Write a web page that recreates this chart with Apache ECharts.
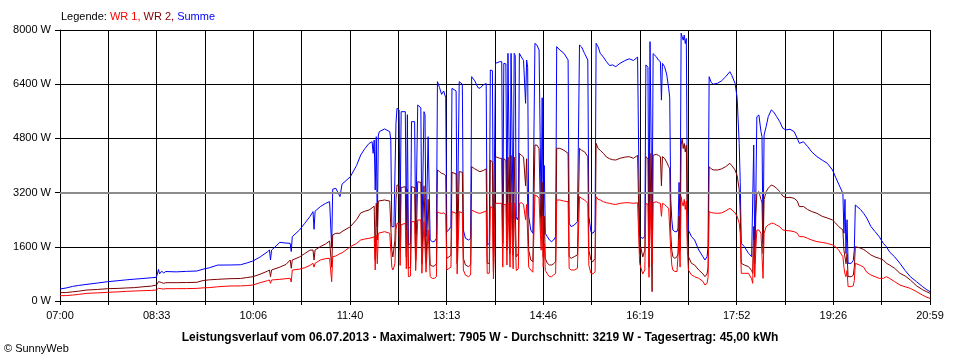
<!DOCTYPE html>
<html><head><meta charset="utf-8">
<script src="https://cdn.jsdelivr.net/npm/echarts@6/dist/echarts.min.js"></script>
<style>html,body{margin:0;padding:0;background:#fff}#c{width:960px;height:360px}</style>
</head><body><div id="c"></div>
<script>
// x tick labels (every second grid line)
const tickLabels = ['07:00','08:33','10:06','11:40','13:13','14:46','16:19','17:52','19:26','20:59'];
// sample times, minutes after 07:00
const minutes = [
0,6,12,18,26,36,46,56,64,72,
80,88,93,95,96,98,100,102,112,122,
132,138,144,152,164,174,180,186,193,200,
202,203,204,212,218,222,223,224,231,236,
241,244,245,246,251,256,260,262,263,266,
270,272,280,286,290,294,298,301,302,303,
304,305,306,307,308,313,318,319,320,321,
322,323,324,325,327,328,329,333,334,335,
336,338,339,342,343,344,345,348,349,350,
351,352,353,354,355,356,357,359,361,363,
364,366,368,370,372,373,375,377,378,382,
383,384,385,388,389,391,394,396,397,400,
403,405,408,411,412,413,414,415,417,418,
419,420,424,426,427,428,430,431,432,433,
434,435,436,437,438,439,440,441,442,443,
445,447,448,449,450,451,452,454,456,457,
458,460,462,463,464,465,466,467,468,470,
472,474,476,478,479,482,486,490,491,493,
496,499,501,503,506,509,510,512,514,516,
517,519,521,524,527,530,533,536,540,545,
549,553,557,558,559,560,562,564,565,567,
568,569,570,571,572,575,577,579,580,581,
583,585,587,588,589,590,591,593,595,596,
597,598,599,600,601,602,603,604,605,606,
609,612,616,620,622,624,625,626,628,630,
634,638,642,646,648,651,653,655,656,657,
660,664,667,668,669,670,671,672,674,676,
677,678,679,681,683,686,688,691,694,697,
700,704,708,711,713,717,721,725,730,735,
740,745,748,751,755,756,757,758,759,760,
763,765,766,767,768,772,775,778,782,786,
790,794,797,800,805,810,815,820,826,832,
836,839
];
// Summe (W)
const summe = [
354,385,430,460,492,530,570,600,625,645,
665,685,700,935,800,880,830,870,860,875,
885,940,980,1060,1063,1070,1120,1181,1300,1450,
1506,1210,1500,1732,1710,1702,1460,1900,2096,2293,
2490,2637,2116,2650,2785,2880,2932,1600,3300,3326,
3080,3450,3670,4000,4310,4500,4650,4700,4360,4750,
3277,4851,2194,4900,5000,5080,5000,4750,2194,2250,
2194,2244,5245,5688,5640,2293,5589,5589,2096,5500,
1653,1700,5294,5294,1998,2050,5786,5700,1801,1801,
5589,5500,1900,1850,4851,4851,1801,1752,1752,1850,
6475,6300,6100,6200,6000,2047,2096,2200,6278,6200,
1702,1750,6475,6400,2096,1850,1800,1850,6622,6500,
6300,6278,6380,6420,1653,1604,1700,6819,6800,1500,
1550,7016,7065,7065,2096,7016,7000,2490,7311,7300,
2300,7311,7300,2400,7311,7250,2490,2400,2490,7311,
7200,7100,7065,5835,7114,6900,2500,2096,2000,2050,
7606,7550,7410,5000,2490,6000,2200,4000,2000,1900,
1801,1752,1801,1900,7508,7410,7311,7114,2293,2194,
2244,2342,7557,7500,7300,7114,2500,2047,1998,2096,
7606,7500,7311,7200,7065,6950,6970,6918,7016,7100,
7150,7100,7200,7213,1900,1899,1850,1899,6970,6900,
1500,7655,7600,2100,7300,7213,7114,7065,5930,7016,
6918,6700,6278,6000,3000,2400,2096,2047,2047,2150,
3500,2200,7905,7800,7700,7850,7600,7750,3000,2096,
1900,1801,1506,1309,1210,1309,1600,6622,6450,6400,
6426,6500,6622,6770,6650,6426,6000,4654,3500,1702,
1604,1407,1309,1309,4605,1604,3000,5440,5490,5000,
4851,1702,4900,5150,5442,5640,5590,5450,5300,5100,
5050,5070,5000,4800,4654,4700,4560,4400,4261,4160,
4064,3867,3650,3450,3178,2000,3000,1400,2400,1112,
1112,1200,1500,2834,2800,2700,2588,2450,2200,2050,
1900,1702,1600,1450,1300,1112,900,718,571,420,
330,276
];
// WR 2 (W)
const wr2 = [
246,250,270,290,325,340,364,372,385,395,
420,440,470,570,520,545,520,541,541,545,
552,605,625,640,659,665,690,718,790,880,
915,718,915,1000,1080,1210,965,1210,1300,1400,
1500,1505,1210,1505,1604,1680,1771,1000,1950,1998,
2000,2050,2194,2400,2600,2650,2686,2750,2700,2800,
1210,2883,1800,2950,2950,2982,2950,2900,1500,1300,
1300,1800,3000,3424,3400,1500,3350,3375,1300,3300,
964,1000,3375,3350,1200,1250,3523,3500,1100,1100,
3400,3380,1150,1112,3000,2950,1063,1030,1030,1100,
3867,3820,3770,3750,3700,1260,1300,1350,3800,3750,
1100,1150,3820,3800,1260,1063,1014,1063,3965,3900,
3850,3818,3850,3900,1112,1063,1112,4162,4100,850,
900,4261,4212,4212,1700,4200,4150,1500,4250,4250,
1400,4300,4300,1350,4250,4250,1300,1250,1400,4359,
4300,4250,4212,3400,4200,4150,1500,1210,1160,1210,
4605,4600,4500,3000,2000,3500,1300,2500,1260,1112,
1063,1063,1100,1160,4507,4507,4450,4359,1309,1260,
1310,1360,4507,4450,4400,4260,1500,1210,1160,1260,
4654,4500,4450,4360,4250,4200,4170,4162,4212,4250,
4260,4212,4300,4290,1400,1600,1300,1500,4260,4200,
1000,4359,4359,276,4300,4330,4300,4260,3400,4260,
4212,4100,3966,3900,2000,1500,1309,1260,1309,1400,
2500,1500,4605,4800,4500,4650,4400,4600,2000,1309,
1112,1063,915,800,718,800,1000,3966,3900,3870,
3867,3900,3966,4064,3990,3870,3700,3300,2600,1112,
1063,1014,900,817,2200,1100,2500,3178,3228,3000,
2900,1400,3000,3228,3330,3424,3400,3330,3230,3100,
3050,3060,3031,2950,2785,2790,2700,2640,2588,2500,
2450,2391,2300,2194,2096,1500,1300,1100,1400,718,
718,760,1000,1604,1604,1560,1520,1456,1360,1300,
1260,1210,1112,1063,964,817,740,620,450,330,
270,226
];
// WR 1 (W)
const wr1 = [
157,160,175,195,226,240,256,270,285,295,
305,312,325,374,350,362,350,364,364,366,
372,388,395,420,443,445,455,472,540,600,
620,522,620,640,660,670,560,915,940,983,
1050,1113,1000,1113,1210,1250,1260,571,1310,1328,
1400,1420,1603,1700,1800,1830,1851,1870,1850,1900,
915,1948,1100,2000,2047,2047,2000,1950,1000,915,
1000,1100,2100,2293,2293,1050,2250,2293,950,2250,
718,740,2342,2342,900,950,2391,2391,820,800,
2342,2300,850,800,2100,2050,718,669,669,718,
2637,2600,2588,2600,2550,915,960,1000,2637,2588,
800,820,2637,2600,915,767,718,768,2686,2637,
2600,2588,2620,2660,817,800,820,2785,2750,650,
670,2883,2883,2883,1000,2850,2850,1063,2900,2900,
1000,2900,2900,950,2900,2880,900,850,950,2883,
2900,2850,2883,2400,2850,2800,1000,915,850,880,
3129,3100,3031,2200,1500,2500,1000,1700,900,800,
718,718,768,817,2982,2982,2950,2932,964,915,
915,964,3080,3030,2980,2883,1050,817,800,864,
3080,3000,2983,2932,2900,2883,2860,2850,2883,2900,
2900,2883,2900,2883,1112,1000,800,918,2880,2850,
700,2932,2980,1100,2900,2930,2900,2883,2500,2883,
2850,2785,2736,2700,1500,1063,915,870,870,915,
1800,1000,3080,2900,2800,3000,2700,2950,1500,915,
770,718,669,580,472,522,700,2637,2610,2600,
2588,2600,2660,2736,2690,2600,2500,2300,2000,817,
817,817,650,522,1800,700,1500,2096,2096,2000,
1950,669,2000,2194,2244,2293,2293,2244,2194,2096,
2080,2070,2047,2000,1899,1899,1850,1800,1752,1730,
1702,1653,1600,1500,1309,1000,800,718,900,423,
423,450,600,1112,1112,1050,1000,850,768,718,
669,669,718,669,570,472,420,374,276,170,
110,79
];
const titleText = 'Leistungsverlauf vom 06.07.2013 - Maximalwert: 7905 W - Durchschnitt: 3219 W - Tagesertrag: 45,00 kWh';

const FONT = '"Liberation Sans", Arial, sans-serif';
const chart = echarts.init(document.getElementById('c'), null, {renderer: 'canvas'});
const pair = arr => minutes.map((m, i) => [m, arr[i]]);
const lineSeries = (name, arr, color) => ({
  name, type: 'line', xAxisIndex: 0, data: pair(arr),
  symbol: 'none', showSymbol: false, silent: true, sampling: null,
  lineStyle: {color, width: 1}, itemStyle: {color}
});
const s1 = lineSeries('WR 1', wr1, '#ff0000');
s1.markLine = {
  silent: true, symbol: 'none', label: {show: false},
  lineStyle: {color: '#8c8c8c', width: 2, type: 'solid'},
  data: [{yAxis: 3200}]
};
chart.setOption({
  animation: false,
  backgroundColor: '#ffffff',
  grid: {left: 60, right: 30, top: 30, bottom: 59},
  xAxis: [
    {type: 'value', min: 0, max: 839, show: false, position: 'top'},
    {type: 'value', min: 0, max: 18, interval: 1, position: 'bottom',
     axisLine: {show: true, lineStyle: {color: '#000', width: 1}},
     axisTick: {show: true, length: 4, lineStyle: {color: '#000'}},
     axisLabel: {margin: 9, color: '#000', fontFamily: FONT, fontSize: 11,
       showMinLabel: true, showMaxLabel: true,
       formatter: v => { const i = Math.round(v); return i % 2 === 0 ? tickLabels[i / 2] : ''; }},
     splitLine: {show: true, lineStyle: {color: '#000', width: 1}}}
  ],
  yAxis: {
    type: 'value', min: 0, max: 8000, interval: 1600,
    axisLine: {show: true, lineStyle: {color: '#000', width: 1}},
    axisTick: {show: true, length: 5, lineStyle: {color: '#000'}},
    axisLabel: {margin: 9, color: '#000', fontFamily: FONT, fontSize: 11,
      formatter: v => String(v) + ' W'},
    splitLine: {show: true, lineStyle: {color: '#000', width: 1}}
  },
  series: [
    lineSeries('Summe', summe, '#0000ff'),
    lineSeries('WR 2', wr2, '#800000'),
    s1
  ],
  graphic: [
    {type: 'text', x: 61, y: 17, silent: true, style: {
      text: '{k|Legende: }{a|WR 1, }{b|WR 2, }{c|Summe}',
      verticalAlign: 'middle',
      rich: {
        k: {fill: '#000', font: '11px ' + FONT},
        a: {fill: '#ff0000', font: '11px ' + FONT},
        b: {fill: '#800000', font: '11px ' + FONT},
        c: {fill: '#0000ff', font: '11px ' + FONT}
      }}},
    {type: 'text', x: 480, y: 338, silent: true, style: {
      text: titleText, align: 'center', verticalAlign: 'middle',
      fill: '#000', font: 'bold 12px ' + FONT}},
    {type: 'text', x: 4, y: 349, silent: true, style: {
      text: '© SunnyWeb', verticalAlign: 'middle', fill: '#000', font: '11px ' + FONT}}
  ]
});
</script></body></html>
